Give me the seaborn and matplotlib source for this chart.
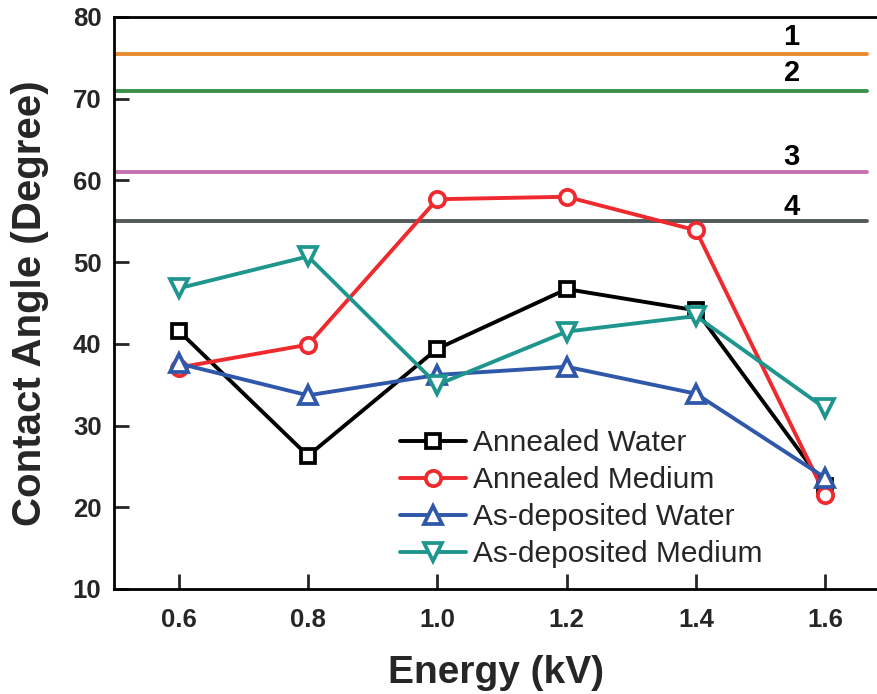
import matplotlib
matplotlib.use("Agg")
import matplotlib.pyplot as plt
import seaborn as sns
import pandas as pd

energy = [0.6, 0.8, 1.0, 1.2, 1.4, 1.6]
annealed_water = [41.6, 26.3, 39.4, 46.7, 44.1, 22.6]
annealed_medium = [37.1, 39.9, 57.7, 58.0, 53.9, 21.5]
asdep_water = [37.6, 33.7, 36.2, 37.2, 33.9, 23.6]
asdep_medium = [46.8, 50.7, 35.0, 41.5, 43.4, 32.1]

ref_values = [75.5, 71.0, 61.0, 55.0]
ref_labels = ["1", "2", "3", "4"]
ref_label_y = [77.6, 73.2, 62.9, 56.8]
ref_colors = ["#E98B30", "#3B8F4A", "#C472B2", "#525A5A"]

series = [
    ("Annealed Water", annealed_water, "#000000", "s", 10),
    ("Annealed Medium", annealed_medium, "#EE2A2F", "o", 11),
    ("As-deposited Water", asdep_water, "#2F58AA", "^", 13),
    ("As-deposited Medium", asdep_medium, "#1E968E", "v", 13),
]

sns.set_style("ticks")
plt.rcParams["font.family"] = ["Liberation Sans", "DejaVu Sans"]

fig = plt.figure(figsize=(8.77, 6.94), dpi=100)
ax = fig.add_axes([114 / 877, 1 - 589 / 694, (877 - 114) / 877, (589 - 17) / 694])

xmin, xmax = 0.5, 1.68
for v, lab, ly, c in zip(ref_values, ref_labels, ref_label_y, ref_colors):
    ax.hlines(v, xmin, 1.665, color=c, lw=2.8, zorder=1, capstyle="round")
    ax.text(1.548, ly, lab, ha="center", va="center", fontsize=21,
            fontweight="bold", color="black")

for name, vals, c, m, ms in series:
    df = pd.DataFrame({"Energy": energy, "Angle": vals})
    sns.lineplot(data=df, x="Energy", y="Angle", ax=ax, color=c, lw=2.8,
                 marker=m, markersize=ms, markerfacecolor="white",
                 markeredgecolor=c, markeredgewidth=2.7, label=name, zorder=3)

ax.set_xlim(xmin, xmax)
ax.set_ylim(10, 80)
ax.set_xticks(energy)
ax.set_xticklabels([f"{e:.1f}" for e in energy])
ax.set_yticks([10, 20, 30, 40, 50, 60, 70, 80])
ax.tick_params(direction="in", length=11, width=2, labelsize=18.5, pad=9)
for lab in ax.get_xticklabels() + ax.get_yticklabels():
    lab.set_fontweight("bold")
ax.tick_params(axis="x", pad=14)

for s in ["left", "bottom", "top"]:
    ax.spines[s].set_linewidth(2)
    ax.spines[s].set_color("black")
ax.spines["right"].set_visible(False)

ax.set_xlabel("Energy (kV)", fontsize=28, fontweight="bold", labelpad=16)
ax.set_ylabel("Contact Angle (Degree)", fontsize=29, fontweight="bold", labelpad=17)

leg = ax.legend(loc="upper left", bbox_to_anchor=(0.375, 0.279), frameon=False,
                fontsize=21.5, handlelength=2.2, handletextpad=0.25,
                borderpad=0, borderaxespad=0, labelspacing=0.3)

fig.savefig("out.png", dpi=100)
